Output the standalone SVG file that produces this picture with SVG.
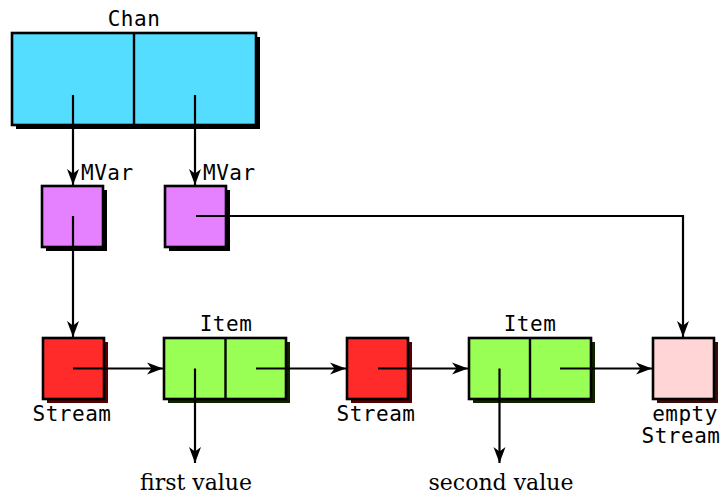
<svg xmlns="http://www.w3.org/2000/svg" width="722" height="495" viewBox="0 0 722 495">
  <defs>
    <marker id="arrow" markerUnits="userSpaceOnUse" markerWidth="18" markerHeight="14" viewBox="0 0 18 14" refX="16" refY="7" orient="auto">
      <path d="M0,1 L16,7 L0,13 L4.5,7 z" fill="#000"/>
    </marker>
  </defs>
  <style>
    .box { stroke: #000; stroke-width: 2.6; }
    .chan { fill: #55ddff; }
    .mvar { fill: #e580ff; }
    .stream { fill: #ff2a2a; }
    .item { fill: #99ff55; }
    .empty { fill: #ffd5d5; }
    .shadow { fill: #000; }
    .shadow-red { fill: #550000; }
    .shadow-green { fill: #112200; }
    .shadow-pink { fill: #3a0d0d; }
    .div { stroke: #000; stroke-width: 2.4; fill: none; }
    .mono { font-family: "DejaVu Sans Mono", "Liberation Mono", monospace; font-size: 21px; letter-spacing: 0.5px; fill: #000; }
    .serif { font-family: "DejaVu Serif", "Liberation Serif", serif; font-size: 22px; fill: #000; }
    .link { stroke: #000; stroke-width: 2.2; fill: none; }
  </style>

  <g id="chan">
    <rect class="shadow" x="16" y="37" width="244" height="92"/>
    <rect class="box chan" x="12" y="33" width="244" height="92"/>
    <line class="div" x1="134" y1="33" x2="134" y2="125"/>
    <text class="mono" x="134" y="26" text-anchor="middle">Chan</text>
  </g>

  <g id="mvar1">
    <rect class="shadow" x="46" y="190" width="61" height="61"/>
    <rect class="box mvar" x="42" y="186" width="61" height="61"/>
    <text class="mono" x="81" y="180">MVar</text>
  </g>

  <g id="mvar2">
    <rect class="shadow" x="169" y="190" width="61" height="61"/>
    <rect class="box mvar" x="165" y="186" width="61" height="61"/>
    <text class="mono" x="203" y="180">MVar</text>
  </g>

  <g id="stream1">
    <rect class="shadow-red" x="47" y="342" width="61" height="61"/>
    <rect class="box stream" x="43" y="338" width="61" height="61"/>
    <text class="mono" x="72" y="421" text-anchor="middle">Stream</text>
  </g>

  <g id="item1">
    <rect class="shadow-green" x="168" y="342" width="122" height="61"/>
    <rect class="box item" x="164" y="338" width="122" height="61"/>
    <line class="div" x1="225.5" y1="338" x2="225.5" y2="399"/>
    <text class="mono" x="226" y="331" text-anchor="middle">Item</text>
  </g>

  <g id="stream2">
    <rect class="shadow-red" x="351" y="342" width="61" height="61"/>
    <rect class="box stream" x="347" y="338" width="61" height="61"/>
    <text class="mono" x="376" y="421" text-anchor="middle">Stream</text>
  </g>

  <g id="item2">
    <rect class="shadow-green" x="473" y="342" width="122" height="61"/>
    <rect class="box item" x="469" y="338" width="122" height="61"/>
    <line class="div" x1="530" y1="338" x2="530" y2="399"/>
    <text class="mono" x="530" y="331" text-anchor="middle">Item</text>
  </g>

  <g id="empty-stream">
    <rect class="shadow-pink" x="657" y="342" width="61" height="61"/>
    <rect class="box empty" x="653" y="338" width="61" height="61"/>
    <text class="mono" x="685" y="421" text-anchor="middle">empty</text>
    <text class="mono" x="681" y="443" text-anchor="middle">Stream</text>
  </g>

  <g id="first-value">
    <text class="serif" x="196" y="490" text-anchor="middle">first value</text>
  </g>

  <g id="second-value">
    <text class="serif" x="501" y="490" text-anchor="middle">second value</text>
  </g>

  <g id="connectors">
    <line class="link" x1="73" y1="95" x2="73" y2="185" marker-end="url(#arrow)"/>
    <line class="link" x1="195" y1="95" x2="195" y2="185" marker-end="url(#arrow)"/>
    <line class="link" x1="73" y1="216" x2="73" y2="337" marker-end="url(#arrow)"/>
    <polyline class="link" points="196,216 683,216 683,337" marker-end="url(#arrow)"/>
    <line class="link" x1="73" y1="368.5" x2="163" y2="368.5" marker-end="url(#arrow)"/>
    <line class="link" x1="256" y1="368.5" x2="346" y2="368.5" marker-end="url(#arrow)"/>
    <line class="link" x1="378" y1="368.5" x2="468" y2="368.5" marker-end="url(#arrow)"/>
    <line class="link" x1="560" y1="368.5" x2="652" y2="368.5" marker-end="url(#arrow)"/>
    <line class="link" x1="195" y1="368.5" x2="195" y2="463" marker-end="url(#arrow)"/>
    <line class="link" x1="499.5" y1="368.5" x2="499.5" y2="463" marker-end="url(#arrow)"/>
  </g>
</svg>
